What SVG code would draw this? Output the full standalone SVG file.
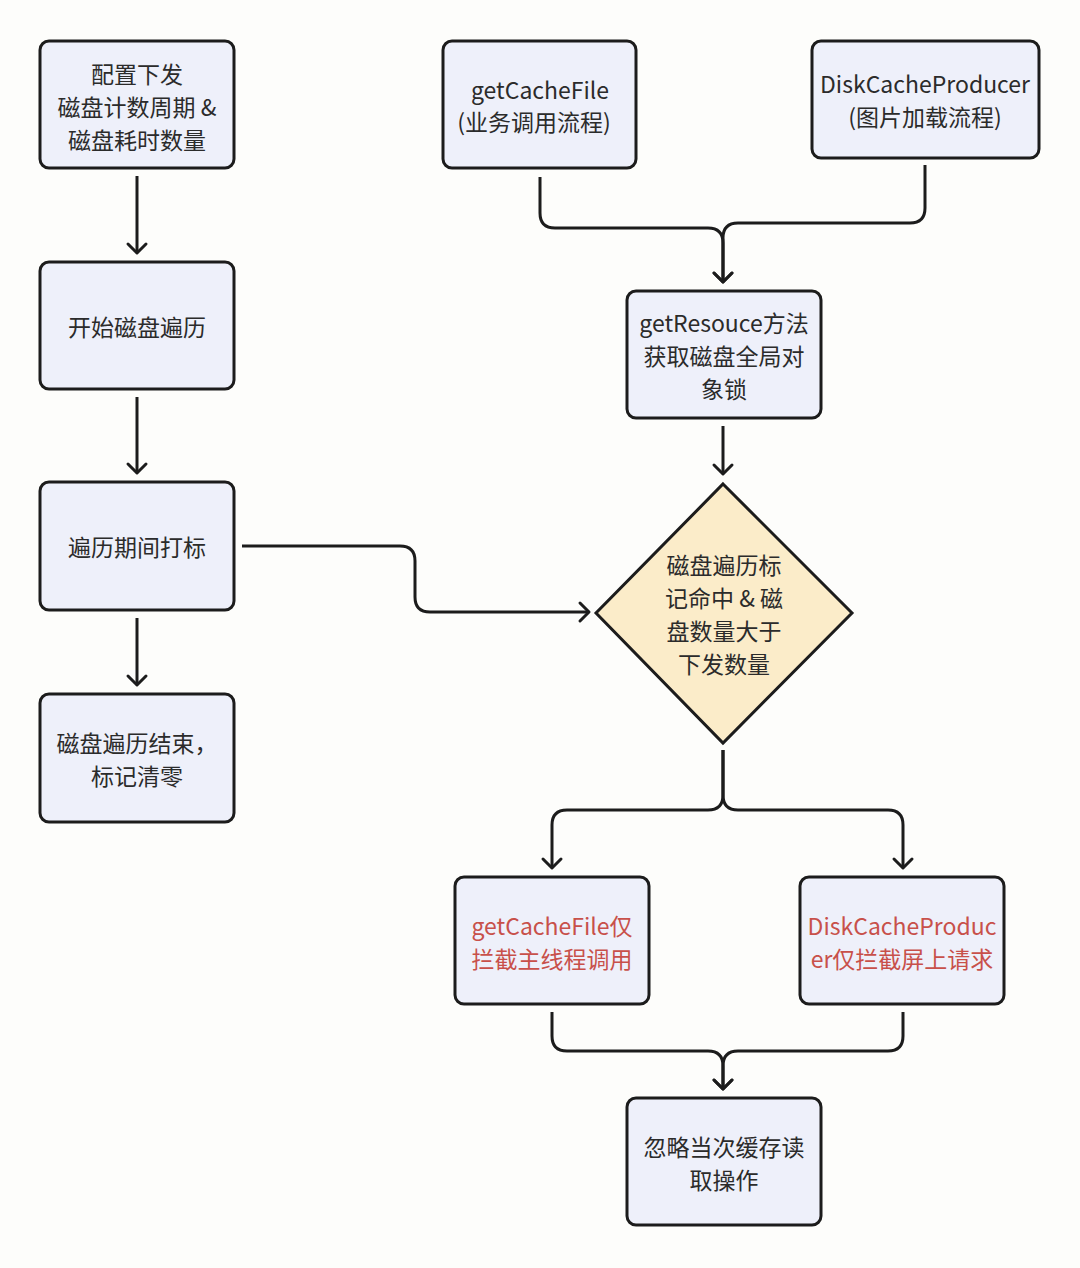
<svg xmlns="http://www.w3.org/2000/svg" width="1080" height="1268" viewBox="0 0 1080 1268">
<style>
.node{fill:#eef0fa;stroke:#1c1c1c;stroke-width:3}
.dia{fill:#fbecc9;stroke:#1c1c1c;stroke-width:3}
.t{font-family:"Noto Sans CJK SC","Noto Sans",sans-serif;font-size:23px;fill:#2b2b2b;text-anchor:middle;dominant-baseline:central}
.r{fill:#c8504a}
.c{fill:none;stroke:#1c1c1c;stroke-width:3;stroke-linejoin:round}
</style>
<defs>
<marker id="ah" markerUnits="userSpaceOnUse" markerWidth="24" markerHeight="24" viewBox="-12 -12 24 24" refX="0" refY="0" orient="auto">
<path d="M-9,-9 L0,0 L-9,9" fill="none" stroke="#1c1c1c" stroke-width="3" stroke-linecap="round" stroke-linejoin="round"/>
</marker>
</defs>
<rect width="1080" height="1268" fill="#fdfdfb"/>
<g id="connectors">
<path class="c" marker-end="url(#ah)" d="M137 176 V253"/>
<path class="c" marker-end="url(#ah)" d="M137 397 V473"/>
<path class="c" marker-end="url(#ah)" d="M137 618 V685"/>
<path class="c" marker-end="url(#ah)" d="M540 177 V213 Q540 228 555 228 H708 Q723 228 723 243 V282"/>
<path class="c" marker-end="url(#ah)" d="M925 165 V208 Q925 223 910 223 H738 Q723 223 723 238 V282"/>
<path class="c" marker-end="url(#ah)" d="M723 426 V474"/>
<path class="c" marker-end="url(#ah)" d="M242 546 H400 Q415 546 415 561 V597 Q415 612 430 612 H589"/>
<path class="c" marker-end="url(#ah)" d="M723 750 V795 Q723 810 708 810 H567 Q552 810 552 825 V868"/>
<path class="c" marker-end="url(#ah)" d="M723 750 V795 Q723 810 738 810 H888 Q903 810 903 825 V868"/>
<path class="c" marker-end="url(#ah)" d="M552 1012 V1036 Q552 1051 567 1051 H708 Q723 1051 723 1066 V1089"/>
<path class="c" marker-end="url(#ah)" d="M903 1012 V1036 Q903 1051 888 1051 H738 Q723 1051 723 1066 V1089"/>
</g>
<g id="n1"><rect class="node" x="40" y="41" width="194" height="127" rx="9"/>
<text class="t" x="137" y="73">配置下发</text><text class="t" x="137" y="106">磁盘计数周期 &amp;</text><text class="t" x="137" y="139">磁盘耗时数量</text></g>
<g id="n2"><rect class="node" x="40" y="262" width="194" height="127" rx="9"/>
<text class="t" x="137" y="326">开始磁盘遍历</text></g>
<g id="n3"><rect class="node" x="40" y="482" width="194" height="128" rx="9"/>
<text class="t" x="137" y="546">遍历期间打标</text></g>
<g id="n4"><rect class="node" x="40" y="694" width="194" height="128" rx="9"/>
<text class="t" x="137" y="742">磁盘遍历结束，</text><text class="t" x="137" y="775">标记清零</text></g>
<g id="n5"><rect class="node" x="443" y="41" width="193" height="127" rx="9"/>
<text class="t" x="540" y="89">getCacheFile</text><text class="t" x="534" y="121">(业务调用流程)</text></g>
<g id="n6"><rect class="node" x="812" y="41" width="227" height="117" rx="9"/>
<text class="t" x="925" y="83">DiskCacheProducer</text><text class="t" x="925" y="116">(图片加载流程)</text></g>
<g id="n7"><rect class="node" x="627" y="291" width="194" height="127" rx="9"/>
<text class="t" x="724" y="322">getResouce方法</text><text class="t" x="724" y="355">获取磁盘全局对</text><text class="t" x="724" y="388">象锁</text></g>
<g id="n8"><polygon class="dia" points="723,484 852,613 723,743 596,613"/>
<text class="t" x="724" y="564">磁盘遍历标</text><text class="t" x="724" y="597">记命中 &amp; 磁</text><text class="t" x="724" y="630">盘数量大于</text><text class="t" x="724" y="663">下发数量</text></g>
<g id="n9"><rect class="node" x="455" y="877" width="194" height="127" rx="9"/>
<text class="t r" x="552" y="925">getCacheFile仅</text><text class="t r" x="552" y="958">拦截主线程调用</text></g>
<g id="n10"><rect class="node" x="800" y="877" width="204" height="127" rx="9"/>
<text class="t r" x="902" y="925">DiskCacheProduc</text><text class="t r" x="902" y="958">er仅拦截屏上请求</text></g>
<g id="n11"><rect class="node" x="627" y="1098" width="194" height="127" rx="9"/>
<text class="t" x="724" y="1146">忽略当次缓存读</text><text class="t" x="724" y="1179">取操作</text></g>
</svg>
